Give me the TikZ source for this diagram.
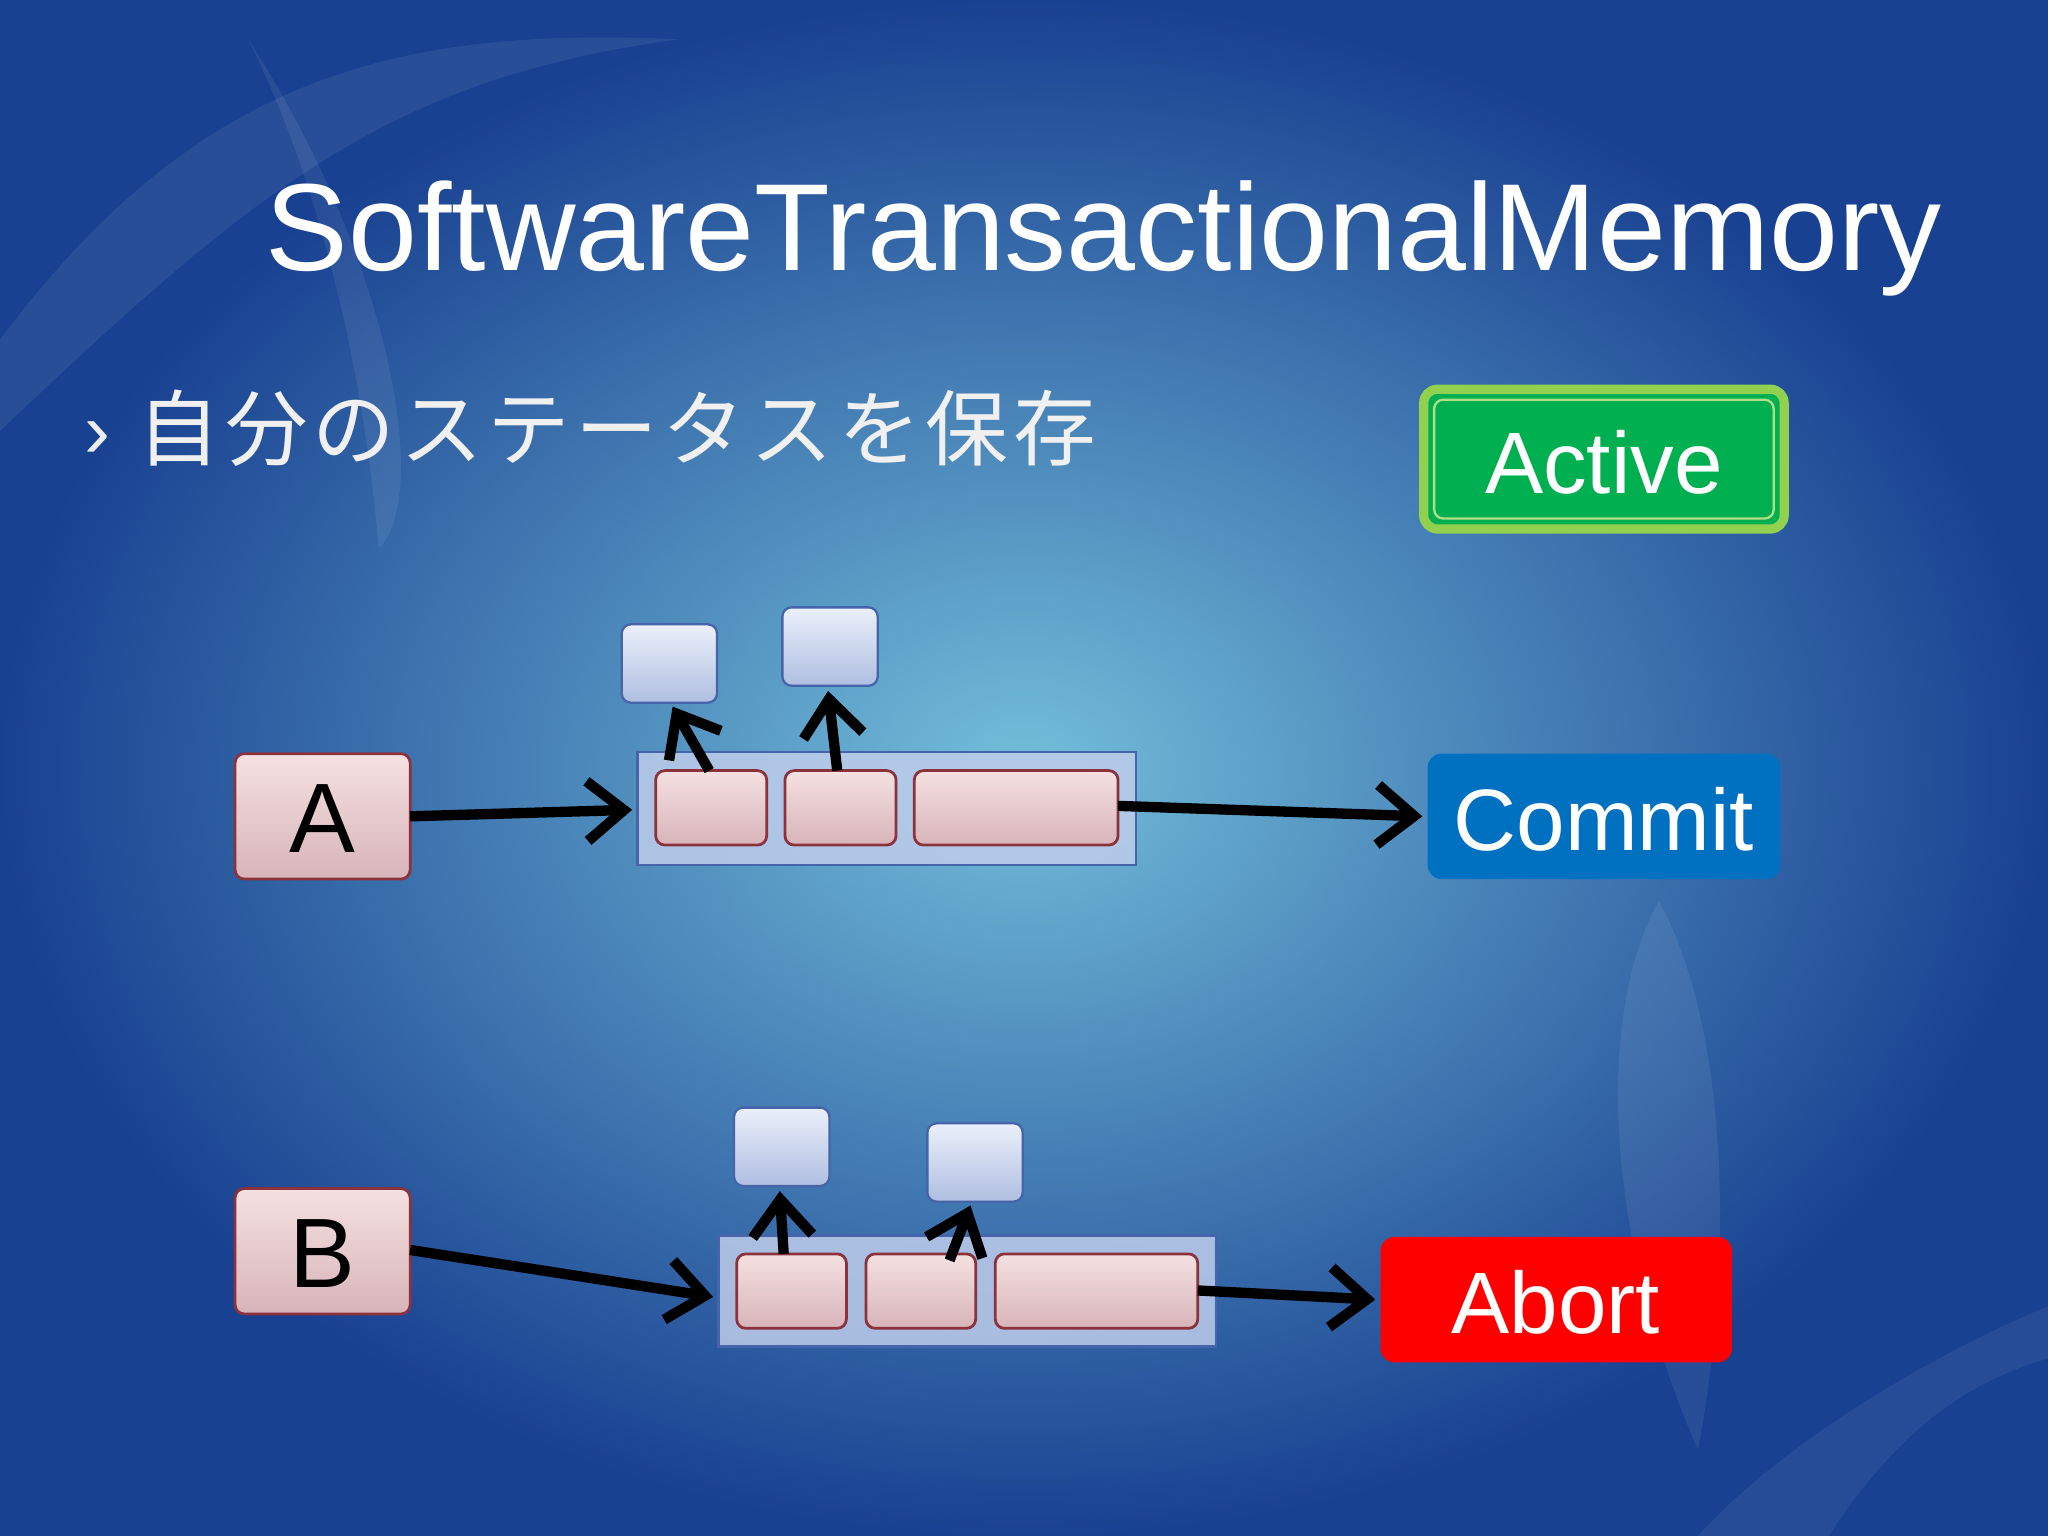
\documentclass[tikz,border=0pt]{standalone}
\usepackage{fontspec}
\setmainfont{Liberation Sans}
\newfontfamily\jp[LetterSpace=6]{Noto Sans CJK JP}
\usetikzlibrary{arrows.meta}
\definecolor{bgin}{RGB}{115,190,218}
\definecolor{bgout}{RGB}{25,65,145}
\definecolor{pinkin}{RGB}{245,225,225}
\definecolor{pinkout}{RGB}{215,180,185}
\definecolor{pinkbd}{RGB}{140,50,60}
\definecolor{bluein}{RGB}{235,240,250}
\definecolor{blueout}{RGB}{175,190,225}
\definecolor{bluebd}{RGB}{70,100,170}
\definecolor{contfill}{RGB}{190,205,235}
\definecolor{actfill}{RGB}{0,176,80}
\definecolor{actbd}{RGB}{146,208,80}
\definecolor{comfill}{RGB}{0,112,192}
\begin{document}
\begin{tikzpicture}[x=0.02cm,y=-0.02cm,
  pinkbox/.style={draw=pinkbd,line width=1.2pt,rounded corners=4pt,top color=pinkin,bottom color=pinkout},
  bluebox/.style={draw=bluebd,line width=1pt,rounded corners=4pt,top color=bluein,bottom color=blueout},
  cont/.style={draw=bluebd,line width=1pt,fill=contfill,fill opacity=0.85},
  arr/.style={line width=4.5pt,-{Straight Barb[length=16pt,width=26pt,line width=4.5pt]}},
  status/.style={rounded corners=6pt},
  stext/.style={text=white,font=\fontsize{38}{42}\selectfont}]
\shade[inner color=bgin,outer color=bgout] (0,0) rectangle (1568,1176);
\useasboundingbox (0,0) rectangle (1568,1176);
% faint swooshes
\fill[white,opacity=0.07] (0,260) .. controls (150,60) and (300,20) .. (520,30) .. controls (300,60) and (200,140) .. (0,330) -- cycle;
\fill[white,opacity=0.07] (190,30) .. controls (300,200) and (330,380) .. (290,420) .. controls (280,300) and (250,150) .. (190,30) -- cycle;
\fill[white,opacity=0.07] (1270,690) .. controls (1220,780) and (1230,950) .. (1300,1110) .. controls (1330,950) and (1320,780) .. (1270,690) -- cycle;
\fill[white,opacity=0.06] (1568,1000) .. controls (1450,1050) and (1350,1120) .. (1300,1176) -- (1400,1176) .. controls (1450,1100) and (1500,1060) .. (1568,1040) -- cycle;
% title
\node[text=white,font=\fontsize{54}{58}\selectfont,anchor=base] (title) at (845,207) {SoftwareTransactionalMemory};
\node[text=white!85!gray,font=\fontsize{34}{36}\selectfont,anchor=base] (bul) at (75,350) {›};
\node[text=white!88!gray,font=\jp\fontsize{36}{38}\selectfont,anchor=base west,inner sep=0] (sub) at (105,352) {自分のステータスを保存};
% status boxes
\path[status,draw=actbd,line width=4pt,fill=actfill] (1090,298) rectangle (1366,405);
\draw[actbd!70!white,line width=1pt,rounded corners=4pt] (1098,306) rectangle (1358,397);
\node[stext] (actt) at (1228,354) {Active};
\path[status,fill=comfill] (1093,577) rectangle (1363,673);
\node[stext] (com) at (1228,627) {Commit};
\path[status,fill=red] (1057,947) rectangle (1326,1043);
\node[stext] (abt) at (1191,997) {Abort};
% A row
\path[pinkbox] (180,577) rectangle (314,673);
\node[font=\fontsize{43}{46}\selectfont] (A) at (247,627) {A};
\path[cont] (488,576) rectangle (870,662);
\path[pinkbox] (502,590) rectangle (587,647);
\path[pinkbox] (601,590) rectangle (686,647);
\path[pinkbox] (700,590) rectangle (856,647);
\path[bluebox] (476,478) rectangle (549,538);
\path[bluebox] (599,465) rectangle (672,525);
\coordinate (a1) at (314,625); \coordinate (a2) at (484,620);
\coordinate (c1) at (856,617); \coordinate (c2) at (1089,625);
\coordinate (u1) at (543,590); \coordinate (u2) at (515,541);
\coordinate (u3) at (641,590); \coordinate (u4) at (634,529);
\draw[arr] (a1) -- (a2);
\draw[arr] (c1) -- (c2);
\draw[arr] (u1) -- (u2);
\draw[arr] (u3) -- (u4);
% B row
\path[pinkbox] (180,910) rectangle (314,1006);
\node[font=\fontsize{43}{46}\selectfont] (B) at (247,960) {B};
\path[cont] (550,946) rectangle (931,1031);
\path[pinkbox] (564,960) rectangle (648,1017);
\path[pinkbox] (663,960) rectangle (747,1017);
\path[pinkbox] (762,960) rectangle (917,1017);
\path[bluebox] (562,848) rectangle (635,908);
\path[bluebox] (710,860) rectangle (783,920);
\coordinate (b1) at (314,957); \coordinate (b2) at (546,993);
\coordinate (d1) at (917,988); \coordinate (d2) at (1053,995);
\coordinate (v1) at (600,960); \coordinate (v2) at (597,912);
\coordinate (v3) at (727,965); \coordinate (v4) at (743,923);
\draw[arr] (b1) -- (b2);
\draw[arr] (d1) -- (d2);
\draw[arr] (v1) -- (v2);
\draw[arr] (v3) -- (v4);
\end{tikzpicture}
\end{document}
